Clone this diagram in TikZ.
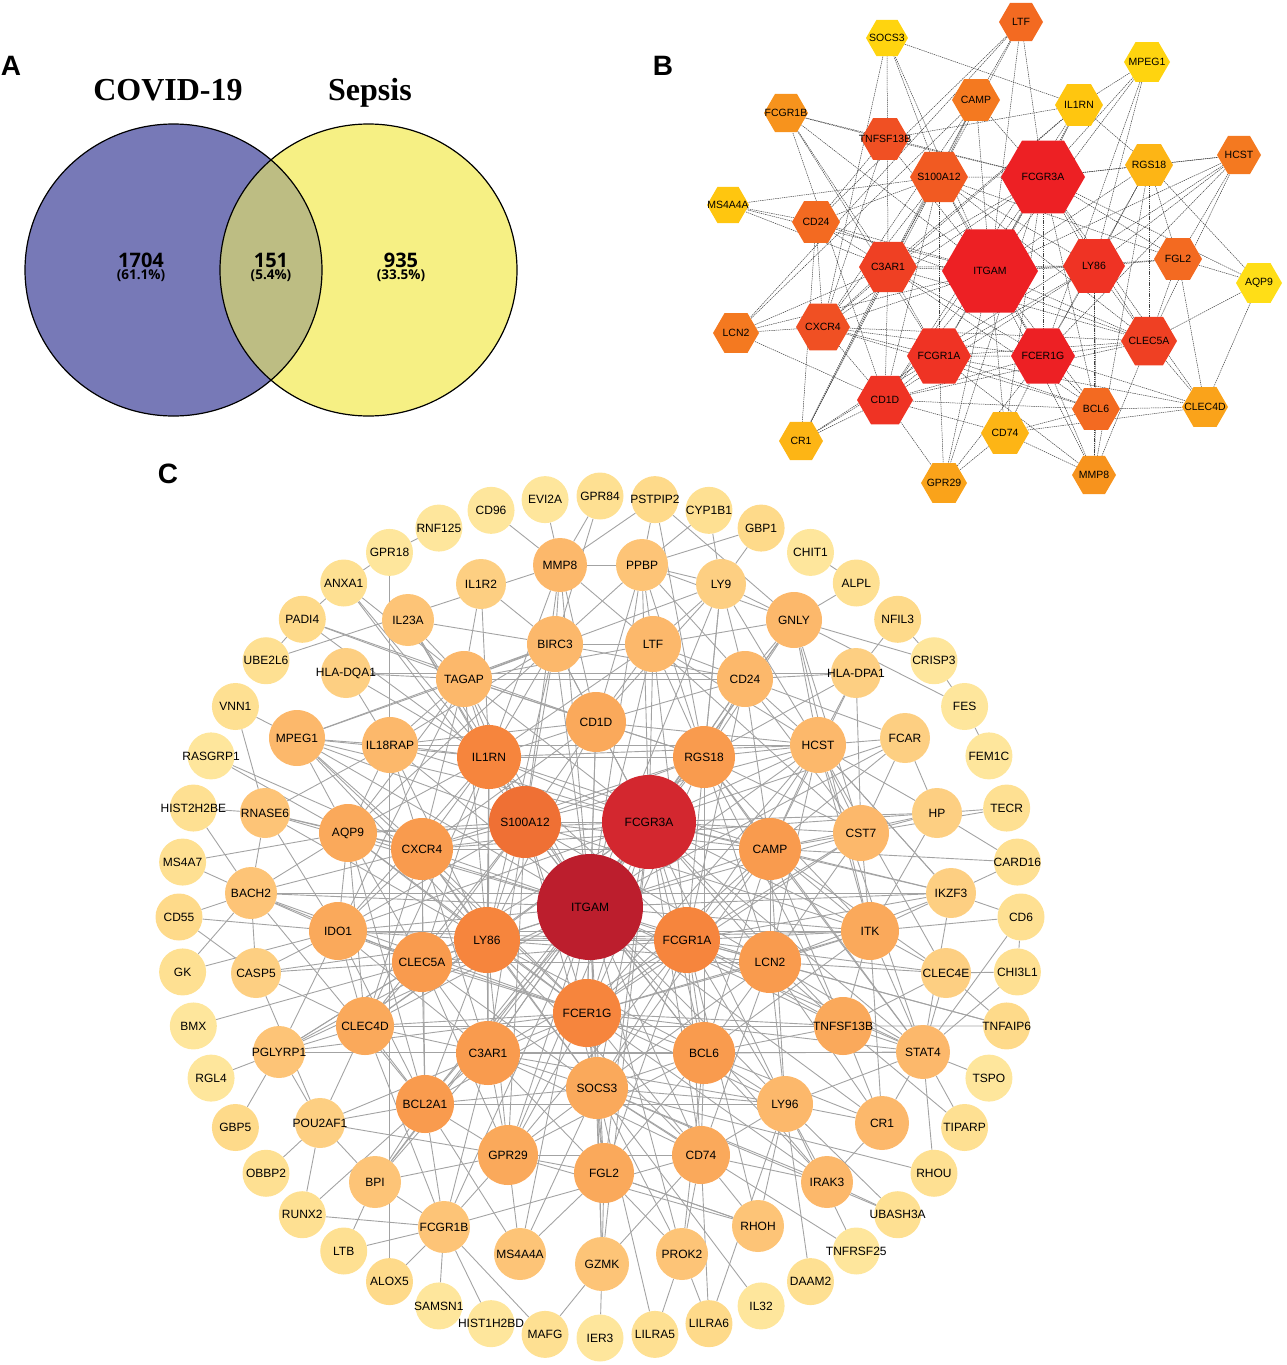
\documentclass[tikz,border=0pt]{standalone}
\usepackage{fontspec}
\setmainfont{Liberation Sans}
\newfontfamily\titlefont{Liberation Serif}
\newfontfamily\vennfont{Open Sans}
\usepackage{xcolor}
\usetikzlibrary{calc,shapes.geometric,backgrounds}
\definecolor{vennblue}{HTML}{7779B7}
\definecolor{vennyellow}{HTML}{F6F084}
\definecolor{vennboth}{HTML}{BDBD83}
\definecolor{lv1}{HTML}{FEE69C}
\definecolor{lv2}{HTML}{FEE092}
\definecolor{lv3}{HTML}{FEDA8A}
\definecolor{lv4}{HTML}{FDCF82}
\definecolor{lv5}{HTML}{FDC477}
\definecolor{lv6}{HTML}{FCB86B}
\definecolor{lv7}{HTML}{FAA95B}
\definecolor{lv8}{HTML}{F99B4E}
\definecolor{lv9}{HTML}{F6853D}
\definecolor{lv10}{HTML}{EF7034}
\definecolor{lv11}{HTML}{D3272F}
\definecolor{lv12}{HTML}{BC1E2D}
\definecolor{hx1}{HTML}{FFDE17}
\definecolor{hx2}{HTML}{FFD40F}
\definecolor{hx3}{HTML}{FFC60F}
\definecolor{hx4}{HTML}{FDB515}
\definecolor{hx5}{HTML}{FAA31A}
\definecolor{hx6}{HTML}{F7931D}
\definecolor{hx7}{HTML}{F47920}
\definecolor{hx8}{HTML}{F36A21}
\definecolor{hx9}{HTML}{F15A22}
\definecolor{hx10}{HTML}{F05023}
\definecolor{hx11}{HTML}{EF4023}
\definecolor{hx12}{HTML}{EF3324}
\definecolor{hx13}{HTML}{ED2024}
\newcommand{\nlabel}[1]{\makebox[0pt]{#1}}
\tikzset{
  panelmark/.style={font=\bfseries\fontsize{28}{30}\selectfont,inner sep=0pt},
  venntitle/.style={font=\titlefont\bfseries\fontsize{#1}{#1}\selectfont,inner sep=0pt},
  vennnum/.style={font=\vennfont\bfseries\fontsize{20}{20}\selectfont,inner sep=0pt},
  vennpct/.style={font=\vennfont\bfseries\fontsize{13.5}{14}\selectfont,inner sep=0pt},
  vennring/.style={x radius=148.5,y radius=146},
  hexnode/.style={regular polygon,regular polygon sides=6,inner sep=0pt,minimum size=#1,
    font=\fontsize{10.5}{11}\selectfont},
  gene/.style={circle,inner sep=0pt,minimum size=#1,font=\fontsize{12}{13}\selectfont},
  hexedge/.style={black!75,line width=0.5pt,dash pattern=on 1.4pt off 0.8pt},
  geneedge/.style={black!36,line width=0.9pt}
}
\begin{document}
\begin{tikzpicture}[x=1pt,y=-1pt]
\useasboundingbox (0,0) rectangle (1286,1365);

\node [panelmark] (markA) at (11,66) {A};
\node [panelmark] (markB) at (663,66) {B};
\node [panelmark] (markC) at (168,474) {C};

\node [venntitle=32] (titleA) at (168,90) {COVID-19};
\node [venntitle=32] (titleB) at (370,93) {Sepsis};
\coordinate (vennA) at (173.5,270);
\coordinate (vennB) at (368.5,270);
\fill [vennblue] (vennA) circle [vennring];
\fill [vennyellow] (vennB) circle [vennring];
\begin{scope}
\clip (vennA) circle [vennring];
\fill [vennboth] (vennB) circle [vennring];
\end{scope}
\draw [line width=1.2pt] (vennA) circle [vennring];
\draw [line width=1.2pt] (vennB) circle [vennring];
\node [vennnum] (numA) at (141,260) {1704};
\node [vennpct] (pctA) at (141,276) {(61.1\%)};
\node [vennnum] (numAB) at (271,260) {151};
\node [vennpct] (pctAB) at (271,276) {(5.4\%)};
\node [vennnum] (numB) at (401,260) {935};
\node [vennpct] (pctB) at (401,276) {(33.5\%)};

\foreach \nm/\xx/\yy/\rr/\lev in {LTF/1021/22/22/8,SOCS3/887/38/21/2,MPEG1/1147/62/23/2,IL1RN/1079/105/24/3,
  CAMP/976/100/24/7,FCGR1B/786/113/22/6,TNFSF13B/885/139/24/10,RGS18/1149/165/24/4,HCST/1239/155/22/7,
  S100A12/939/177/29/9,FCGR3A/1043/177/42/13,MS4A4A/728/205/21/3,CD24/816/222/24/8,ITGAM/990/271/48/13,
  C3AR1/888/267/29/11,LY86/1094/266/31/12,FGL2/1178/259/24/8,AQP9/1259/283/23/1,LCN2/736/333/23/7,
  CXCR4/823/327/27/10,FCGR1A/939/356/32/12,FCER1G/1043/356/32/13,CLEC5A/1149/341/28/11,CD1D/885/400/28/12,
  BCL6/1096/409/24/8,CLEC4D/1205/407/23/5,CD74/1005/433/24/4,CR1/801/441/22/4,GPR29/944/483/23/5,MMP8/1094/475/22/6}
  \node [hexnode=2*\rr,fill=hx\lev] (b\nm) at (\xx,\yy) {\nlabel{\nm}};

\begin{pgfonlayer}{background}
\foreach \src/\dsts in {
  ITGAM/{FCGR3A,S100A12,C3AR1,LY86,FCGR1A,FCER1G,CD1D,CLEC5A,CXCR4,CD24,TNFSF13B,CAMP,LTF,SOCS3,IL1RN,MPEG1,RGS18,HCST,FGL2,LCN2,CD74,BCL6,GPR29,MMP8,FCGR1B,MS4A4A},
  FCGR3A/{S100A12,C3AR1,LY86,FCGR1A,FCER1G,CD1D,CLEC5A,CXCR4,TNFSF13B,CAMP,LTF,IL1RN,MPEG1,RGS18,HCST,FGL2,CD74,BCL6,GPR29,CLEC4D,FCGR1B,AQP9},
  S100A12/{C3AR1,LY86,FCGR1A,FCER1G,CD1D,CLEC5A,CXCR4,CD24,CAMP,SOCS3,FGL2,MS4A4A,CR1,LTF},
  C3AR1/{LY86,FCGR1A,FCER1G,CD1D,CLEC5A,CXCR4,CD24,LCN2,CR1,BCL6,MS4A4A,SOCS3,FCGR1B,IL1RN,CAMP},
  LY86/{FCGR1A,FCER1G,CD1D,CLEC5A,FGL2,RGS18,MPEG1,HCST,BCL6,MMP8},
  FCGR1A/{FCER1G,CD1D,CLEC5A,CXCR4,BCL6,GPR29,CR1,MMP8,CLEC4D,FCGR1B},
  FCER1G/{CD1D,CLEC5A,BCL6,CD74,GPR29,MMP8,CLEC4D,CXCR4,RGS18,MPEG1,HCST},
  CD1D/{BCL6,CD74,GPR29,CR1,LCN2,CLEC5A,CXCR4,IL1RN,FCGR1B},
  CLEC5A/{AQP9,FGL2,CLEC4D,RGS18,HCST,CXCR4,CD24,MMP8},
  CXCR4/{LCN2,TNFSF13B,CD24,BCL6,CAMP,IL1RN},
  CD24/{MS4A4A,CR1,TNFSF13B,LTF},
  SOCS3/{IL1RN,CXCR4},
  LTF/{CAMP,LCN2},
  CAMP/{LCN2,CR1},
  IL1RN/{MPEG1,RGS18,TNFSF13B},
  RGS18/{HCST,FGL2,AQP9,MMP8},
  HCST/{FGL2,CR1},
  FGL2/{AQP9,CLEC4D},
  AQP9/{CLEC4D},
  BCL6/{CD74,MMP8,CLEC4D},
  CD74/{MMP8,GPR29,CLEC4D},
  FCGR1B/{TNFSF13B}}
  \foreach \dst in \dsts
    \draw [hexedge] (b\src) -- (b\dst);
\end{pgfonlayer}

\coordinate (ringc) at (600,917);
\foreach \nm/\lev [count=\k from 0] in {GPR84/2,PSTPIP2/3,CYP1B1/2,GBP1/3,CHIT1/1,ALPL/2,NFIL3/3,CRISP3/1,FES/1,FEM1C/1,TECR/2,CARD16/2,
  CD6/2,CHI3L1/2,TNFAIP6/3,TSPO/1,TIPARP/2,RHOU/2,UBASH3A/2,TNFRSF25/1,DAAM2/2,IL32/1,LILRA6/3,LILRA5/2,
  IER3/1,MAFG/2,HIST1H2BD/1,SAMSN1/1,ALOX5/3,LTB/2,RUNX2/2,OBBP2/2,GBP5/3,RGL4/1,BMX/1,GK/2,
  CD55/3,MS4A7/2,HIST2H2BE/2,RASGRP1/1,VNN1/2,UBE2L6/2,PADI4/3,ANXA1/2,GPR18/1,RNF125/1,CD96/1,EVI2A/1}
  \node [gene=47,fill=lv\lev] (c\nm) at ($(ringc)+({-90+7.5*\k}:421)$) {\nlabel{\nm}};

\foreach \nm/\xx/\yy/\rr/\lev in {MMP8/560/565/27/6,PPBP/642/565/26/5,IL1R2/481/584/25/4,LY9/721/584/25/4,IL23A/408/620/26/5,
  GNLY/794/620/28/6,BIRC3/555/644/28/6,LTF/653/644/28/6,HLA-DQA1/346/673/25/4,TAGAP/464/679/28/6,CD24/745/679/28/6,
  HLA-DPA1/856/673/25/4,CD1D/596/722/30/7,MPEG1/297/738/28/6,IL18RAP/390/745/28/6,IL1RN/489/757/32/9,RGS18/704/757/31/8,
  HCST/818/745/28/6,FCAR/905/738/25/4,RNASE6/265/813/25/5,AQP9/348/833/29/7,CXCR4/422/849/31/8,S100A12/525/822/36/10,
  FCGR3A/649/822/47/11,CAMP/770/849/31/8,CST7/861/833/28/6,HP/937/813/25/4,BACH2/251/893/26/5,IKZF3/951/893/25/4,
  IDO1/338/931/29/7,LY86/487/940/33/9,ITGAM/590/907/53/12,FCGR1A/687/940/33/9,ITK/870/931/29/7,CASP5/256/973/25/4,
  CLEC5A/422/962/30/8,LCN2/770/962/31/8,CLEC4E/946/973/25/4,CLEC4D/365/1026/29/7,FCER1G/587/1013/34/9,TNFSF13B/843/1026/29/7,
  PGLYRP1/279/1052/26/5,C3AR1/488/1053/32/8,BCL6/704/1053/31/8,STAT4/923/1052/27/6,BCL2A1/425/1104/29/8,SOCS3/597/1088/31/7,
  LY96/785/1104/28/6,POU2AF1/320/1123/25/4,CR1/882/1123/27/6,GPR29/508/1155/30/7,FGL2/604/1173/30/7,CD74/701/1155/29/7,
  BPI/375/1182/26/5,IRAK3/827/1182/26/6,RHOH/758/1226/26/5,FCGR1B/444/1227/26/5,MS4A4A/520/1254/26/5,GZMK/602/1264/27/5,PROK2/682/1254/26/5}
  \node [gene=2*\rr,fill=lv\lev] (c\nm) at (\xx,\yy) {\nlabel{\nm}};

\begin{pgfonlayer}{background}
\foreach \src/\dsts in {
  ITGAM/{FCGR3A,S100A12,IL1RN,RGS18,CD1D,CXCR4,CAMP,LY86,FCGR1A,FCER1G,C3AR1,BCL6,SOCS3,LCN2,CLEC5A,TAGAP,LTF,BIRC3,CD24,MMP8,PPBP,HCST,IL18RAP,MPEG1,AQP9,CST7,IDO1,ITK,CLEC4D,TNFSF13B,GPR29,FGL2,CD74,BCL2A1,LY96,STAT4,IL23A,GNLY,LY9,IKZF3,FCGR1B,MS4A4A,GZMK,PROK2,BPI,CR1,IRAK3,PGLYRP1,BACH2,RNASE6,FCAR},
  FCGR3A/{S100A12,RGS18,IL1RN,CD1D,CAMP,CXCR4,LY86,FCGR1A,FCER1G,C3AR1,BCL6,LCN2,SOCS3,TAGAP,LTF,BIRC3,CD24,PPBP,HCST,CST7,AQP9,ITK,STAT4,TNFSF13B,CLEC5A,CLEC4D,GPR29,FGL2,CD74,LY96,IL18RAP,MPEG1,HP,FCAR,IKZF3,GNLY,BPI,GZMK,BCL2A1,IDO1},
  S100A12/{IL1RN,RGS18,CD1D,CXCR4,CAMP,LY86,FCER1G,C3AR1,BCL6,LCN2,TAGAP,BIRC3,MMP8,HCST,AQP9,MPEG1,IDO1,CLEC5A,CLEC4D,SOCS3,GPR29,ANXA1,IL23A,ITK},
  FCER1G/{FCGR1A,LY86,C3AR1,BCL6,SOCS3,CXCR4,CAMP,LCN2,CLEC5A,RGS18,CD1D,HCST,AQP9,IDO1,ITK,CLEC4D,TNFSF13B,GPR29,FGL2,CD74,BCL2A1,LY96,STAT4,MPEG1,CST7,BACH2,PGLYRP1,IRAK3},
  FCGR1A/{LY86,C3AR1,BCL6,SOCS3,CAMP,LCN2,CLEC5A,IL1RN,RGS18,CD24,LTF,HCST,CST7,ITK,TNFSF13B,GPR29,FGL2,CD74,LY96,STAT4,IDO1,CLEC4E,IKZF3,RHOH},
  LY86/{C3AR1,BCL6,SOCS3,CXCR4,LCN2,CLEC5A,IL1RN,CD1D,TAGAP,BIRC3,IDO1,AQP9,MPEG1,IL18RAP,CLEC4D,BCL2A1,GPR29,CD74,ITK,RNASE6,CASP5,PGLYRP1},
  IL1RN/{RGS18,CD1D,CXCR4,CAMP,TAGAP,BIRC3,LTF,MMP8,IL18RAP,MPEG1,AQP9,CLEC5A,C3AR1,HCST,IL1R2,IL23A,ANXA1,PADI4,HLA-DQA1,IDO1,CLEC4D},
  RGS18/{CD1D,CAMP,CXCR4,LTF,CD24,PPBP,HCST,CST7,LCN2,ITK,TNFSF13B,GNLY,BCL6,TAGAP,HLA-DPA1,LY9,STAT4,PSTPIP2},
  CXCR4/{CAMP,AQP9,IDO1,CLEC5A,C3AR1,SOCS3,TAGAP,IL18RAP,MPEG1,RNASE6,BACH2,CD1D,HP,RASGRP1,CLEC4D,BCL2A1},
  CAMP/{LCN2,CST7,ITK,HCST,CD24,BCL6,SOCS3,TNFSF13B,STAT4,HP,FCAR,IKZF3,LY96,CARD16,CLEC4E},
  LCN2/{ITK,TNFSF13B,STAT4,CLEC4E,CLEC5A,BCL6,CST7,HCST,IKZF3,LY96,CR1,TNFAIP6,SOCS3,CD74},
  CLEC5A/{IDO1,C3AR1,CLEC4D,AQP9,BCL2A1,BACH2,CASP5,BMX,SOCS3,GPR29,PGLYRP1},
  C3AR1/{BCL6,SOCS3,BCL2A1,GPR29,FGL2,CLEC4D,IDO1,POU2AF1,BPI,CD74,LY96,FCGR1B},
  BCL6/{SOCS3,CD74,FGL2,LY96,TNFSF13B,STAT4,CR1,IRAK3,GPR29,ITK,PROK2},
  SOCS3/{FGL2,GPR29,CD74,BCL2A1,LY96,IRAK3,GZMK,PROK2,IL32,RHOU,TNFRSF25,MS4A4A,UBASH3A,LILRA5},
  CD1D/{TAGAP,BIRC3,LTF,MMP8,PPBP,CD24,IL18RAP,HCST,LY9,PADI4},
  TAGAP/{BIRC3,LTF,CD24,IL18RAP,IL23A,IL1R2,MPEG1,AQP9,LY9,IDO1},
  BIRC3/{LTF,MMP8,PPBP,IL1R2,IL23A,CD24,IL18RAP,AQP9,MPEG1,GPR84},
  LTF/{PPBP,MMP8,LY9,CD24,HCST,GNLY,CST7},
  CD24/{HCST,GNLY,LY9,HLA-DPA1,CST7,FCAR,PPBP},
  HCST/{HLA-DPA1,GNLY,CST7,FCAR,HP,LY9,IL18RAP,ITK,IKZF3,CLEC4E,STAT4},
  GNLY/{LY9,PPBP,CST7,ITK,ALPL,CRISP3,FES,PSTPIP2},
  AQP9/{MPEG1,IL18RAP,IDO1,BACH2,RNASE6,MS4A7,CLEC4D,BCL2A1},
  IDO1/{BACH2,CASP5,CD55,GK,ITK,CLEC4D,PGLYRP1,BCL2A1,RNASE6},
  CLEC4D/{PGLYRP1,POU2AF1,BCL2A1,TNFSF13B,CASP5,FCGR1B},
  BCL2A1/{POU2AF1,BPI,GPR29,RUNX2,FCGR1B,BACH2,MS4A4A,LY96},
  GPR29/{MS4A4A,FCGR1B,CD74,FGL2,POU2AF1,BPI,RHOH},
  FGL2/{GZMK,PROK2,MS4A4A,RHOH},
  CD74/{GZMK,PROK2,LILRA6,RHOH,LY96,IRAK3,FCGR1B},
  LY96/{CR1,IRAK3,STAT4,RHOH,DAAM2,TNFRSF25,UBASH3A,LILRA6},
  TNFSF13B/{STAT4,TNFAIP6,TIPARP,ITK,CR1,CLEC4E},
  STAT4/{CR1,IKZF3,CD6,CHI3L1,TSPO,TIPARP,RHOU,ITK,CLEC4E,PGLYRP1},
  ITK/{IKZF3,CD6,CLEC4E,CST7,HP,CR1},
  CST7/{FCAR,HP,TECR,HLA-DPA1},
  HP/{TECR,CARD16,FCAR},
  IKZF3/{CARD16,CD6,HCST},
  CLEC4E/{CHI3L1,TNFAIP6},
  CR1/{IRAK3},
  MMP8/{EVI2A,CD96,GPR84,PPBP,PSTPIP2,UBE2L6},
  PPBP/{PSTPIP2,CYP1B1,GBP1,LY9},
  LY9/{CYP1B1,GBP1,RGS18},
  HLA-DQA1/{HLA-DPA1,IL18RAP,TAGAP},
  HLA-DPA1/{NFIL3,CAMP},
  GPR18/{RNF125,ANXA1,ALOX5},
  ANXA1/{PADI4,TAGAP},
  PADI4/{UBE2L6,TAGAP},
  MPEG1/{VNN1,IL18RAP},
  VNN1/{RNASE6},
  NFIL3/{CRISP3},
  CHIT1/{ALPL},
  FES/{CRISP3,FEM1C},
  RASGRP1/{AQP9},
  RNASE6/{IL18RAP,HIST2H2BE,BACH2},
  BACH2/{HIST2H2BE,MS4A7,CD55,GK,IKZF3,CASP5},
  CASP5/{CD55,POU2AF1},
  PGLYRP1/{RGL4,GBP5,CLEC5A,STAT4,POU2AF1},
  POU2AF1/{OBBP2,RUNX2,BPI},
  BPI/{LTB,FCGR1B},
  FCGR1B/{LTB,ALOX5,SAMSN1,HIST1H2BD,MAFG,RUNX2},
  GZMK/{MAFG,IER3},
  PROK2/{LILRA5,LILRA6},
  RHOH/{FGL2},
  CHI3L1/{CD6},
  TNFAIP6/{FCGR1A},
  IRAK3/{UBASH3A}}
  \foreach \dst in \dsts
    \draw [geneedge] (c\src) -- (c\dst);
\end{pgfonlayer}
\end{tikzpicture}
\end{document}
